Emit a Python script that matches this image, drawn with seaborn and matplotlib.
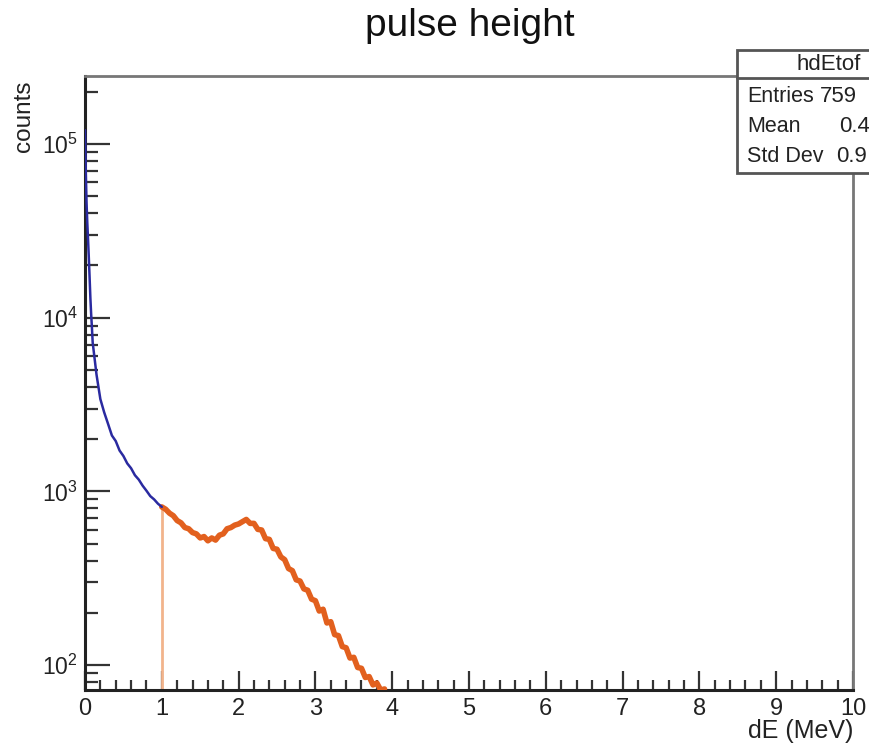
import numpy as np
import pandas as pd
import matplotlib
matplotlib.use("Agg")
import matplotlib.pyplot as plt
import seaborn as sns
from matplotlib.patches import Rectangle
from matplotlib.lines import Line2D
from matplotlib.ticker import MultipleLocator, LogLocator, NullFormatter

# ---- data ----
blue_x = [0.00, 0.01, 0.02, 0.03, 0.04, 0.05, 0.06, 0.07, 0.08, 0.09, 0.10,
          0.15, 0.20, 0.25, 0.30, 0.35, 0.40, 0.45, 0.50, 0.55, 0.60, 0.65,
          0.70, 0.75, 0.80, 0.85, 0.90, 0.95, 1.00]
blue_y = [120000, 70000, 46000, 35000, 28000, 22000, 17000, 13000, 10500, 8800, 7200,
          4700, 3400, 2850, 2450, 2100, 1950, 1720, 1600, 1450, 1360, 1240,
          1170, 1080, 1010, 940, 900, 850, 815]

orange_x = [1.00, 1.05, 1.10, 1.15, 1.20, 1.25, 1.30, 1.35, 1.40, 1.45, 1.50,
            1.55, 1.60, 1.65, 1.70, 1.75, 1.80, 1.85, 1.90, 1.95, 2.00, 2.05,
            2.10, 2.15, 2.20, 2.25, 2.30, 2.35, 2.40, 2.45, 2.50, 2.55, 2.60,
            2.65, 2.70, 2.75, 2.80, 2.85, 2.90, 2.95, 3.00, 3.05, 3.10, 3.15,
            3.20, 3.25, 3.30, 3.35, 3.40, 3.45, 3.50, 3.55, 3.60, 3.65, 3.70,
            3.75, 3.80, 3.85, 3.90]
orange_y = [815, 790, 750, 725, 680, 660, 620, 610, 580, 570, 540,
            550, 520, 540, 525, 560, 570, 610, 620, 640, 650, 670,
            690, 655, 655, 605, 600, 535, 530, 470, 465, 420, 405,
            360, 350, 310, 305, 275, 270, 240, 235, 205, 210, 175,
            178, 150, 148, 128, 126, 110, 111, 97, 96, 85, 86,
            77, 79, 72, 73]

title = "pulse height"
x_label = "dE (MeV)"
y_label = "counts"
hist_name = "hdEtof"
stat_names = ["Entries", "Mean", "Std Dev"]
stat_values = ["759", "0.4", "0.9"]

x_lim = (0, 10)
y_lim = (72, 2.46e5)

# ---- style ----
sns.set_style("ticks")
plt.rcParams['font.family'] = ['Liberation Sans', 'DejaVu Sans']
plt.rcParams['mathtext.fontset'] = 'custom'
plt.rcParams['mathtext.rm'] = 'Liberation Sans'
plt.rcParams['mathtext.it'] = 'Liberation Sans:italic'
plt.rcParams['mathtext.bf'] = 'Liberation Sans:bold'

W, H = 870, 745
fig = plt.figure(figsize=(W / 100, H / 100), dpi=100)
L, R, T, B = 85, 853, 76, 690
ax = fig.add_axes([L / W, 1 - B / H, (R - L) / W, (B - T) / H])
ax.set_facecolor("white")

dfb = pd.DataFrame({"x": blue_x, "y": blue_y})
dfo = pd.DataFrame({"x": orange_x, "y": orange_y})

ax.set_yscale("log")
ax.set_xlim(*x_lim)
ax.set_ylim(*y_lim)

# vertical edge of the orange histogram at its first bin
ax.plot([orange_x[0], orange_x[0]], [y_lim[0], orange_y[0]],
        color="#f2b48c", lw=2.0, zorder=2)
sns.lineplot(data=dfo, x="x", y="y", ax=ax, color="#e2601e", lw=4.0,
             estimator=None, sort=False, zorder=3)
sns.lineplot(data=dfb, x="x", y="y", ax=ax, color="#2a2aa0", lw=1.8,
             estimator=None, sort=False, zorder=3)

# spines
for s in ["left", "bottom"]:
    ax.spines[s].set_color("#222222")
    ax.spines[s].set_linewidth(2.2)
for s in ["top", "right"]:
    ax.spines[s].set_color("#777777")
    ax.spines[s].set_linewidth(2.0)

# ticks (ROOT style: inside)
ax.xaxis.set_major_locator(MultipleLocator(1))
ax.xaxis.set_minor_locator(MultipleLocator(0.2))
ax.yaxis.set_major_locator(LogLocator(base=10, numticks=10))
ax.yaxis.set_minor_locator(LogLocator(base=10, subs=np.arange(2, 10), numticks=20))
ax.yaxis.set_minor_formatter(NullFormatter())
ax.tick_params(axis="x", which="major", direction="in", length=14, width=1.6,
               color="#333333", labelsize=17, pad=6, top=False)
ax.tick_params(axis="x", which="minor", direction="in", length=7, width=1.6,
               color="#333333", top=False)
ax.tick_params(axis="y", which="major", direction="in", length=18, width=1.6,
               color="#333333", labelsize=16.5, pad=5, right=False)
ax.tick_params(axis="y", which="minor", direction="in", length=9, width=1.6,
               color="#333333", right=False)
for lab in ax.get_xticklabels() + ax.get_yticklabels():
    lab.set_color("#222222")

ax.set_xlabel("")
ax.set_ylabel("")

# axis titles
fig.text(R / W, 1 - 743 / H, x_label, ha="right", va="bottom", fontsize=18, color="#222222")
fig.text(13 / W, 1 - 80 / H, y_label, ha="left", va="top", rotation=90, fontsize=17.5, color="#222222")
fig.text(470 / W, 1 - 26 / H, title, ha="center", va="center", fontsize=28, color="#111111")

# stats box
bx0, by0, by1, byh = 737, 50, 173, 78
box = Rectangle((bx0 / W, 1 - by1 / H), 300 / W, (by1 - by0) / H,
                transform=fig.transFigure, facecolor="white",
                edgecolor="#555555", lw=2.0, zorder=10)
fig.patches.append(box)
fig.lines.append(Line2D([bx0 / W, 1.2], [1 - byh / H, 1 - byh / H],
                        transform=fig.transFigure, color="#555555", lw=2.0, zorder=11))
fig.text(797 / W, 1 - 64 / H, hist_name, ha="left", va="center", fontsize=16,
         color="#222222", zorder=12)
rows_y = [97, 127, 156]
vals_x = [820, 839, 836]
for name, val, yy, vx in zip(stat_names, stat_values, rows_y, vals_x):
    fig.text(747 / W, 1 - yy / H, name, ha="left", va="center", fontsize=15.5,
             color="#222222", zorder=12)
    fig.text(vx / W, 1 - yy / H, val, ha="left", va="center", fontsize=16,
             color="#222222", zorder=12)

fig.savefig("out.png", dpi=100, facecolor="white")
